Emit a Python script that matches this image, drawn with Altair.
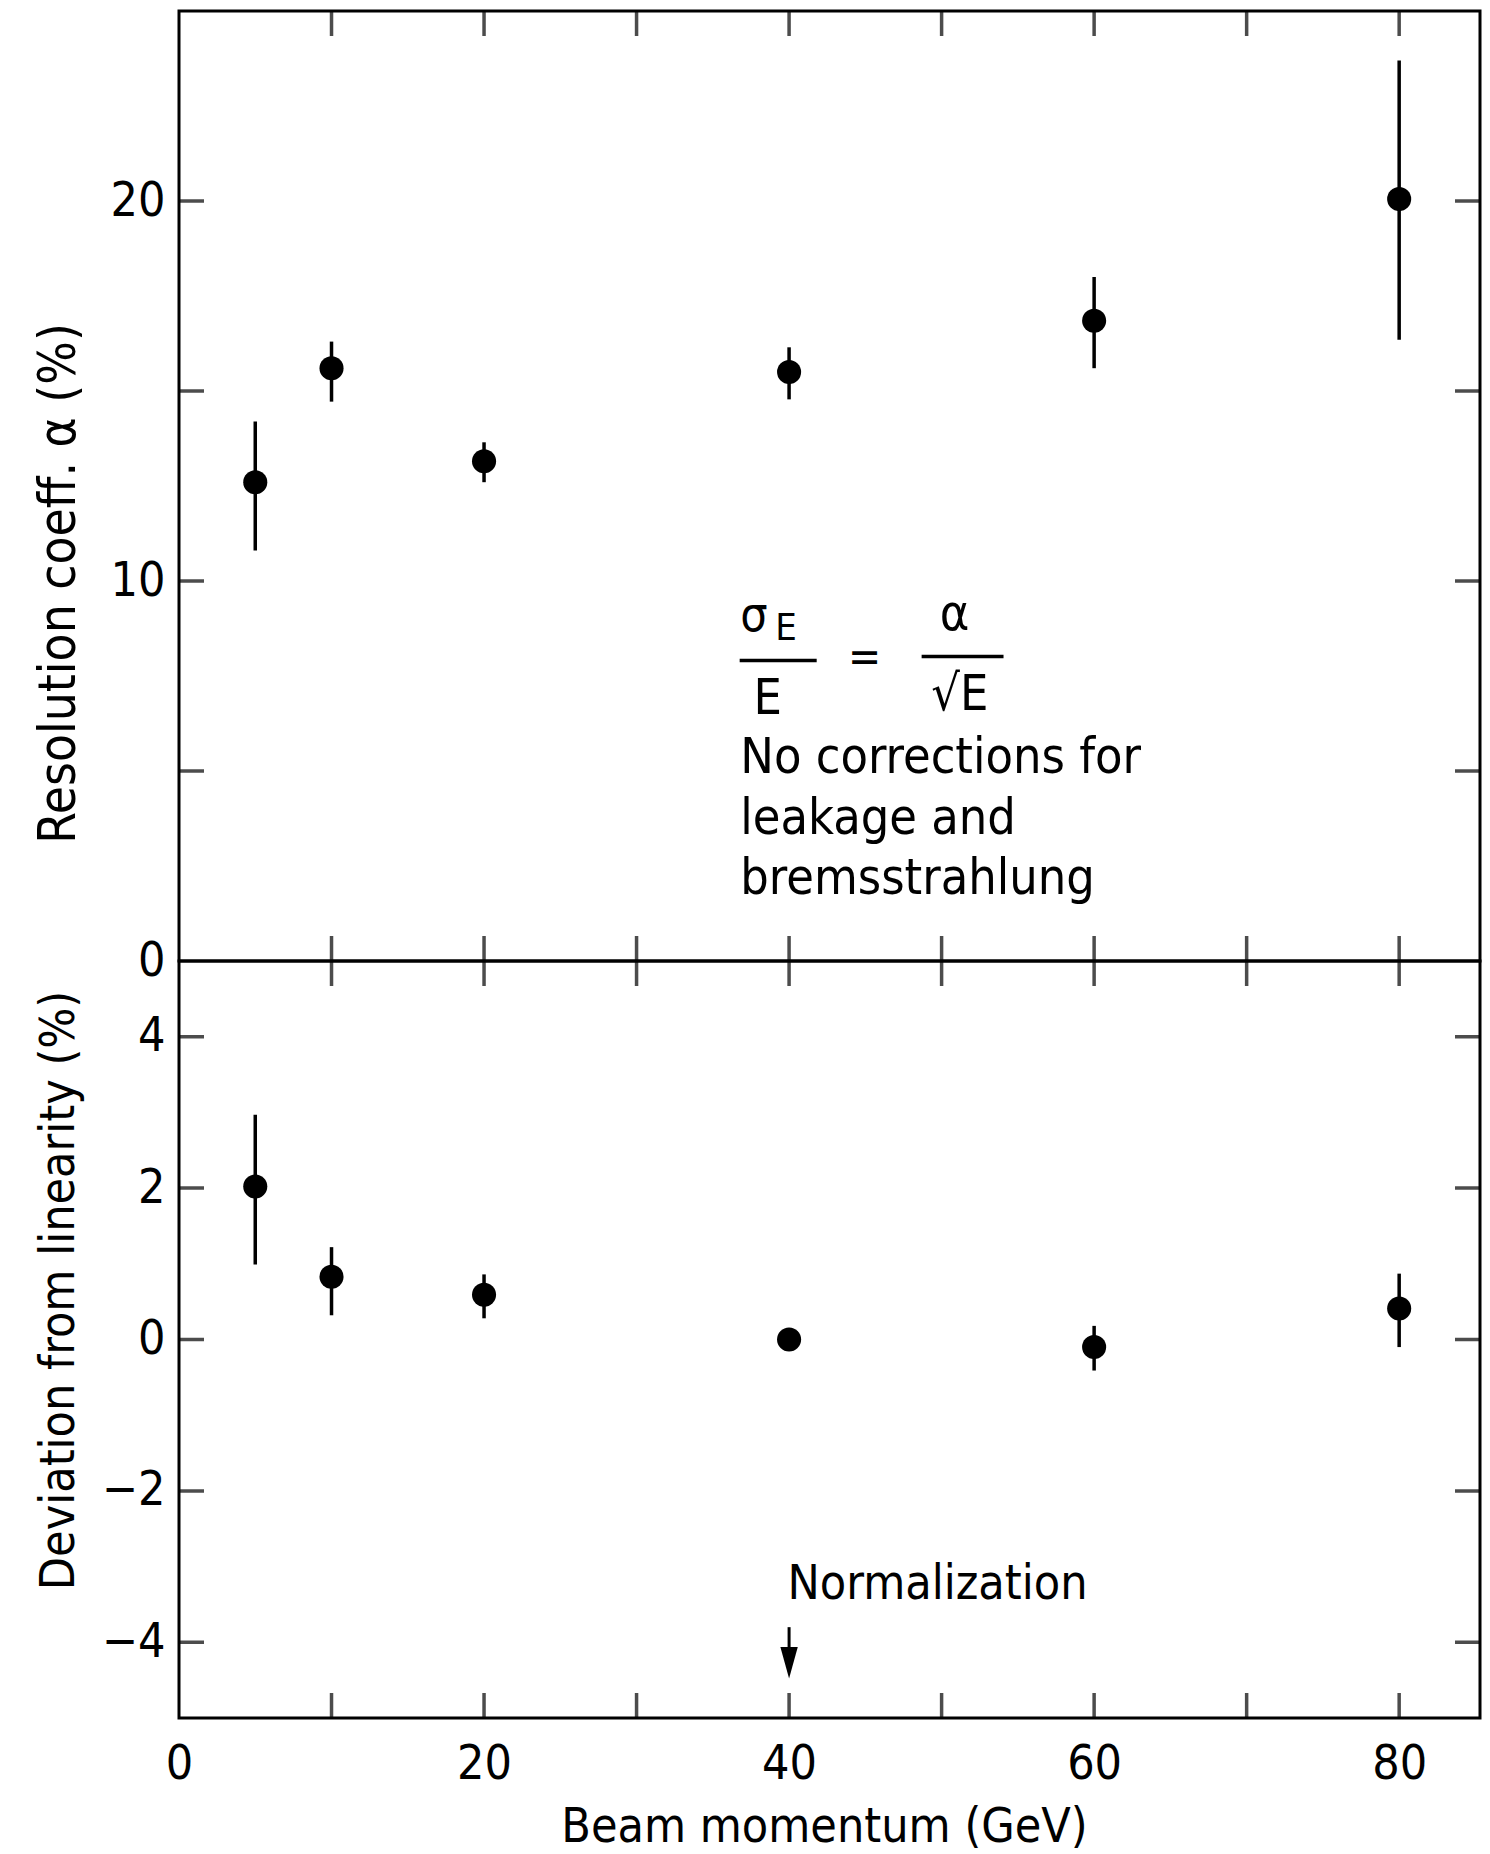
import altair as alt
import pandas as pd

FONT = "DejaVu Sans Condensed, DejaVu Sans, sans-serif"

# ---------------- data ----------------
energy = [5, 10, 20, 40, 60, 80]  # beam momentum (GeV)

alpha_val = [12.6, 15.6, 13.15, 15.5, 16.85, 20.05]   # resolution coeff. alpha (%)
alpha_lo = [10.8, 14.72, 12.6, 14.78, 15.6, 16.35]
alpha_hi = [14.2, 16.3, 13.65, 16.15, 18.0, 23.7]

dev_val = [2.02, 0.83, 0.59, 0.0, -0.1, 0.41]          # deviation from linearity (%)
dev_lo = [0.99, 0.32, 0.28, 0.0, -0.41, -0.10]
dev_hi = [2.97, 1.22, 0.86, 0.0, 0.18, 0.87]

x_ticks = [10, 20, 30, 40, 50, 60, 70, 80]
x_labels = [0, 20, 40, 60, 80]
top_y_ticks = [5, 10, 15, 20]
top_y_labels = [0, 10, 20]
bot_y_ticks = [-4, -2, 0, 2, 4]

X_DOMAIN = [0, 85.3]
TOP_DOMAIN = [0, 25]
BOT_DOMAIN = [-5, 5]

W = 1301
H_TOP = 950
H_BOT = 757
TICK = 50  # centred tick, half is clipped away -> inward tick of 25 px

xs = alt.Scale(domain=X_DOMAIN, nice=False, zero=False)
ys_top = alt.Scale(domain=TOP_DOMAIN, nice=False, zero=False)
ys_bot = alt.Scale(domain=BOT_DOMAIN, nice=False, zero=False)

top_axis = alt.Axis(values=top_y_labels, format="d", title="Resolution coeff. α (%)",
                    ticks=False, domain=False, grid=False, labelPadding=14,
                    titleX=-120, titleY=572, titleFontSize=51,
                    titleAngle=-90, titleAlign="center", titleBaseline="middle")
bot_axis = alt.Axis(values=bot_y_ticks, format="d", title="Deviation from linearity (%)",
                    ticks=False, domain=False, grid=False, labelPadding=14,
                    titleX=-120, titleY=329,
                    titleAngle=-90, titleAlign="center", titleBaseline="middle")
x_axis_bot = alt.Axis(values=x_labels, format="d", title="Beam momentum (GeV)", ticks=False,
                      domain=False, grid=False, labelPadding=22, titleX=645, titleY=123,
                      titleAlign="center", titleBaseline="alphabetic")


def tick_layers(yscale, yaxis, xaxis, ydom, yticks):
    vt = pd.DataFrame([(x, y) for x in x_ticks for y in ydom], columns=["tx", "ty"])
    ht = pd.DataFrame([(x, y) for x in X_DOMAIN for y in yticks], columns=["tx", "ty"])
    enc = dict(x=alt.X("tx:Q", scale=xs, axis=xaxis),
               y=alt.Y("ty:Q", scale=yscale, axis=yaxis))
    v = alt.Chart(vt).mark_tick(orient="vertical", size=TICK, thickness=3.5, color="black",
                                clip=True).encode(**enc)
    h = alt.Chart(ht).mark_tick(orient="horizontal", size=TICK, thickness=3.5, color="black",
                                clip=True).encode(**enc)
    return v + h


def txt(s, x, y, size=48, align="center", baseline="middle"):
    return alt.Chart(pd.DataFrame({"t": [s]})).mark_text(
        text=s, font=FONT, fontSize=size, align=align, baseline=baseline, color="black"
    ).encode(x=alt.datum(x), y=alt.datum(y))


def bar(x1, x2, y):
    return alt.Chart(pd.DataFrame({"t": [0]})).mark_rule(color="black", strokeWidth=3.5).encode(
        x=alt.datum(x1), x2=alt.datum(x2), y=alt.datum(y))


# ---------------- top panel ----------------
top_df = pd.DataFrame({"E": energy, "a": alpha_val, "lo": alpha_lo, "hi": alpha_hi})
top_err = alt.Chart(top_df).mark_rule(color="black", strokeWidth=3.5).encode(
    x=alt.X("E:Q", scale=xs, axis=None),
    y=alt.Y("lo:Q", scale=ys_top, axis=top_axis),
    y2="hi:Q")
top_pts = alt.Chart(top_df).mark_point(shape="circle", filled=True, size=580, color="black",
                                       opacity=1).encode(
    x=alt.X("E:Q", scale=xs, axis=None),
    y=alt.Y("a:Q", scale=ys_top, axis=top_axis))

formula = (
    txt("σ", 37.7, 9.05, 48)
    + txt("E", 39.8, 8.75, 38)
    + bar(36.76, 41.81, 7.91)
    + txt("E", 38.6, 6.9, 50)
    + txt("=", 44.95, 7.95, 44)
    + txt("α", 50.85, 9.1, 50)
    + bar(48.69, 54.06, 8.01)
    + txt("√E", 51.2, 7.0, 50)
)
note = (
    txt("No corrections for", 36.8, 4.95, 50, "left", "alphabetic")
    + txt("leakage and", 36.8, 3.35, 50, "left", "alphabetic")
    + txt("bremsstrahlung", 36.8, 1.77, 50, "left", "alphabetic")
)

top = alt.layer(top_err, top_pts,
                tick_layers(ys_top, top_axis, None, TOP_DOMAIN, top_y_ticks),
                formula, note).properties(width=W, height=H_TOP)

# ---------------- bottom panel ----------------
bot_df = pd.DataFrame({"E": energy, "d": dev_val, "lo": dev_lo, "hi": dev_hi})
bot_err = alt.Chart(bot_df).mark_rule(color="black", strokeWidth=3.5).encode(
    x=alt.X("E:Q", scale=xs, axis=x_axis_bot),
    y=alt.Y("lo:Q", scale=ys_bot, axis=bot_axis),
    y2="hi:Q")
bot_pts = alt.Chart(bot_df).mark_point(shape="circle", filled=True, size=580, color="black",
                                       opacity=1).encode(
    x=alt.X("E:Q", scale=xs, axis=x_axis_bot),
    y=alt.Y("d:Q", scale=ys_bot, axis=bot_axis))

arrow_line = alt.Chart(pd.DataFrame({"t": [0]})).mark_rule(color="black", strokeWidth=3).encode(
    x=alt.datum(40), y=alt.datum(-3.8), y2=alt.datum(-4.25))
arrow_head = alt.Chart(pd.DataFrame({"t": [0]})).mark_point(
    shape="M-0.55,-1L0.55,-1L0,1Z", size=1000, filled=True, color="black", opacity=1
).encode(x=alt.datum(40), y=alt.datum(-4.27))
norm = txt("Normalization", 39.9, -3.43, 48, "left", "alphabetic")

bottom = alt.layer(bot_err, bot_pts,
                   tick_layers(ys_bot, bot_axis, x_axis_bot, BOT_DOMAIN, bot_y_ticks),
                   arrow_line, arrow_head, norm).properties(width=W, height=H_BOT)

chart = (
    alt.vconcat(top, bottom, spacing=0, bounds="flush")
    .properties(padding={"left": 31, "top": 9, "right": 4, "bottom": 0}, background="white")
    .configure_view(stroke="black", strokeWidth=3)
    .configure_axis(labelFont=FONT, labelFontSize=48, labelColor="black",
                    titleFont=FONT, titleFontSize=48, titleFontWeight="normal",
                    titleColor="black", labelOverlap=False, labelFlush=False)
)

chart.save("out.html", embed_options={"renderer": "svg", "actions": False})
